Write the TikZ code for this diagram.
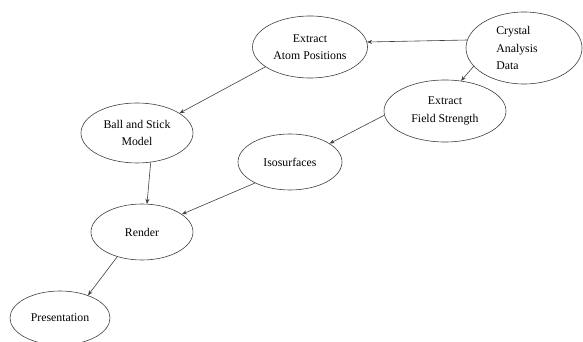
\documentclass[tikz,border=0pt]{standalone}
\usepackage{fontspec}
\setmainfont{Liberation Serif}
\usetikzlibrary{shapes.geometric,arrows.meta}
\begin{document}
\begin{tikzpicture}[x=1pt,y=1pt,
  oval/.style={ellipse,draw=black!75,line width=0.6pt,inner sep=0pt,align=center,
    font=\fontsize{11.8}{17.5}\selectfont},
  flow/.style={draw=black!75,line width=0.6pt,-{Stealth[length=5pt,width=4pt]}}]
\fill[white] (0,0) rectangle (583,342);
\useasboundingbox (0,0) rectangle (583,342);
\node[oval,minimum width=116pt,minimum height=72pt] (crystal) at (524,294) {};
\node[font=\fontsize{11.8}{17.5}\selectfont,align=left] at (517,294) {Crystal\\Analysis\\Data};
\node[oval,minimum width=115pt,minimum height=62pt] (atom) at (310,295) {Extract\\Atom Positions};
\node[oval,minimum width=122pt,minimum height=62pt] (field) at (445,231) {Extract\\Field Strength};
\node[oval,minimum width=104pt,minimum height=56pt] (iso) at (290,180) {Isosurfaces};
\node[oval,minimum width=112pt,minimum height=60pt] (ball) at (137,209) {Ball and Stick\\Model};
\node[oval,minimum width=102pt,minimum height=56pt] (render) at (142,110) {Render};
\node[oval,minimum width=100pt,minimum height=54pt] (pres) at (60,24) {Presentation};
\draw[flow] (crystal.172) -- (atom.5);
\draw[flow] (crystal.200) -- (field.62);
\draw[flow] (atom.204) -- (ball.25);
\draw[flow] (field.184) -- (iso.25);
\draw[flow] (ball.295) -- (render.80);
\draw[flow] (iso.211) -- (render.24);
\draw[flow] (render.225) -- (pres.39);
\end{tikzpicture}
\end{document}
